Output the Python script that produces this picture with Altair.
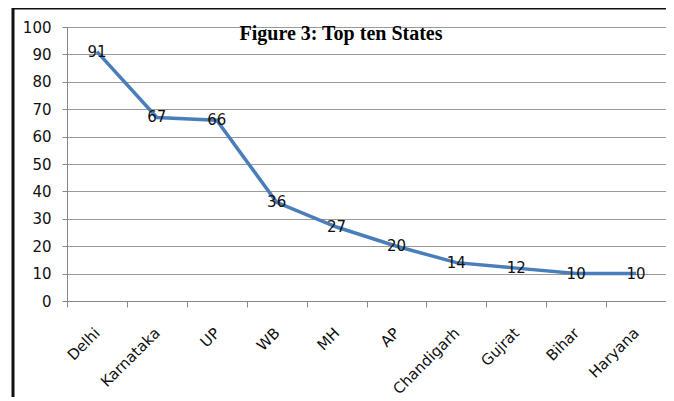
import altair as alt
import pandas as pd

states = ["Delhi", "Karnataka", "UP", "WB", "MH", "AP", "Chandigarh", "Gujrat", "Bihar", "Haryana"]
counts = [91, 67, 66, 36, 27, 20, 14, 12, 10, 10]
y_ticks = [0, 10, 20, 30, 40, 50, 60, 70, 80, 90, 100]
title_text = "Figure 3: Top ten States"

df = pd.DataFrame({"state": states, "count": counts})

W, H = 599, 274
sans = "DejaVu Sans"

x = alt.X("state:N", sort=states, title=None,
          scale=alt.Scale(type="band", paddingInner=0, paddingOuter=0),
          axis=alt.Axis(labelAngle=-45, labelAlign="right", labelBaseline="middle",
                        labelFont=sans, labelFontSize=15, labelColor="#111",
                        labelPadding=23, tickBand="extent", tickSize=6,
                        tickColor="#888", domainColor="#888", grid=False,
                        labelOverlap=False))
y = alt.Y("count:Q", title=None,
          scale=alt.Scale(domain=[0, 100], nice=False, zero=True),
          axis=alt.Axis(values=y_ticks, labelFont=sans, labelFontSize=15,
                        labelColor="#111", labelPadding=11, tickSize=5, tickColor="#888",
                        domainColor="#888", gridColor="#999", gridWidth=1, grid=True,
                        labelOverlap=False))

base = alt.Chart(df)
line = base.mark_line(color="#4a7ebb", strokeWidth=3.5).encode(x=x, y=y)
labels = base.mark_text(font=sans, fontSize=15, color="#111", baseline="middle", align="center").encode(
    x=x, y=y, text="count:Q")

title = alt.Chart(pd.DataFrame({"t": [title_text]})).mark_text(
    font="Liberation Serif", fontSize=20, fontWeight="bold", color="#000",
    align="center", baseline="middle").encode(
    x=alt.value(274), y=alt.value(7), text="t:N")

border_top = alt.Chart(pd.DataFrame({"a": [0]})).mark_rule(color="#111", strokeWidth=3).encode(
    x=alt.value(-54), x2=alt.value(W + 10), y=alt.value(-19))
border_left = alt.Chart(pd.DataFrame({"a": [0]})).mark_rule(color="#111", strokeWidth=3).encode(
    x=alt.value(-54), y=alt.value(-20), y2=alt.value(H + 110))

chart = alt.layer(line, labels, title, border_top, border_left).properties(
    width=W, height=H,
    autosize=alt.AutoSizeParams(type="none"),
    padding={"left": 59, "top": 19, "right": 0, "bottom": 96},
    background="white",
).configure_view(stroke=None)

chart.save("out.html", embed_options={"renderer": "svg", "actions": False})
